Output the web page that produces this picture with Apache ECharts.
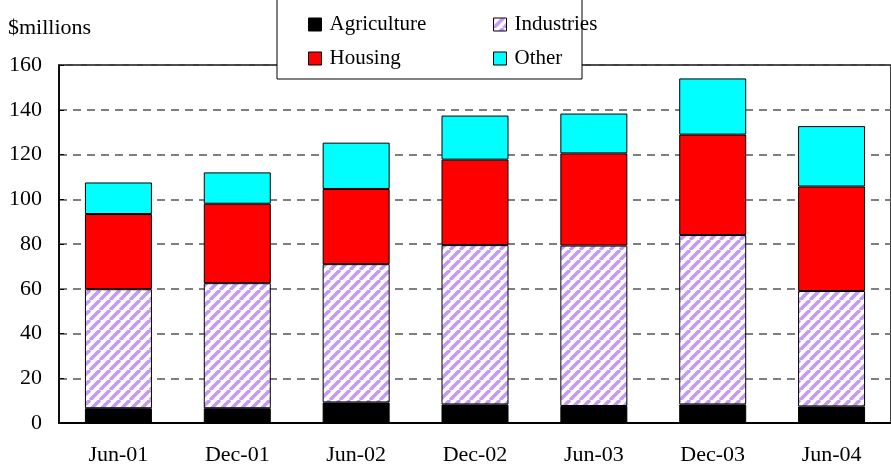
<!DOCTYPE html>
<html>
<head>
<meta charset="utf-8">
<script src="https://cdn.jsdelivr.net/npm/echarts@6/dist/echarts.min.js"></script>
<style>html,body{margin:0;padding:0;background:#fff;}#c{width:891px;height:468px;}</style>
</head>
<body>
<div id="c"></div>
<script>
const categories = ['Jun-01','Dec-01','Jun-02','Dec-02','Jun-03','Dec-03','Jun-04'];
const agriculture = [6.6, 6.6, 9.2, 8.3, 7.6, 8.3, 7.4];
const industries  = [53.2, 55.9, 61.8, 71.2, 71.7, 75.7, 51.6];
const housing     = [33.6, 35.5, 33.6, 38.2, 41.2, 44.9, 46.7];
const other       = [14.1, 14.0, 20.7, 19.7, 17.8, 25.1, 27.0];
const yTicks = [0, 20, 40, 60, 80, 100, 120, 140, 160];

const FONT = '"Liberation Serif", "Times New Roman", serif';

function stripePattern() {
  const c = document.createElement('canvas');
  c.width = 10; c.height = 10;
  const g = c.getContext('2d');
  g.fillStyle = '#ffffff';
  g.fillRect(0, 0, 10, 10);
  g.strokeStyle = '#c49af3';
  g.lineWidth = 3.6;
  for (const k of [-10, 0, 10]) {
    g.beginPath();
    g.moveTo(k, 10);
    g.lineTo(k + 10, 0);
    g.stroke();
  }
  return {image: c, repeat: 'repeat'};
}
const stripes = stripePattern();

const chart = echarts.init(document.getElementById('c'), null, {renderer: 'canvas'});
const bw = 67;
function bar(name, data, color, z) {
  return {
    name, type: 'bar', stack: 'total', data, barWidth: bw,
    itemStyle: {color, borderColor: '#000', borderWidth: 1},
    emphasis: {disabled: true}, animation: false, z
  };
}
const legendCommon = {
  orient: 'vertical', top: 9,
  itemWidth: 13, itemHeight: 13, itemGap: 13, icon: 'rect',
  itemStyle: {borderColor: '#000', borderWidth: 1},
  textStyle: {fontFamily: FONT, fontSize: 21, color: '#000', padding: [0, 0, 0, 3]},
  z: 110, selectedMode: false
};
chart.setOption({
  animation: false,
  backgroundColor: '#fff',
  grid: {left: 59, top: 65, right: -15, bottom: 45, show: true, borderColor: '#000', borderWidth: 1.5, backgroundColor: 'transparent'},
  graphic: [{
    type: 'rect', shape: {x: 277, y: -1, width: 305, height: 80},
    style: {fill: '#fff', stroke: '#000', lineWidth: 1}, z: 100
  }],
  legend: [
    Object.assign({data: ['Agriculture', 'Housing'], left: 303}, legendCommon),
    Object.assign({data: ['Industries', 'Other'], left: 488}, legendCommon)
  ],
  xAxis: {
    type: 'category', data: categories,
    axisLine: {lineStyle: {color: '#000', width: 2}},
    axisTick: {show: false},
    axisLabel: {fontFamily: FONT, fontSize: 22, color: '#000', margin: 21},
    splitLine: {show: false}
  },
  yAxis: {
    type: 'value', min: 0, max: 160, interval: 20,
    name: '$millions', nameLocation: 'end', nameGap: 26,
    nameTextStyle: {fontFamily: FONT, fontSize: 22, color: '#000', align: 'left', padding: [0, 0, 0, -51]},
    axisLine: {show: true, lineStyle: {color: '#000', width: 1.5}},
    axisTick: {show: true, inside: true, length: 5, lineStyle: {color: '#000'}},
    axisLabel: {fontFamily: FONT, fontSize: 22, color: '#000', margin: 17,
      formatter: v => yTicks.includes(v) ? String(v) : ''},
    splitLine: {show: true, lineStyle: {color: '#555', type: [8, 6], width: 1.5}}
  },
  series: [
    bar('Agriculture', agriculture, '#000000', 2),
    bar('Industries', industries, stripes, 2),
    bar('Housing', housing, '#ff0000', 2),
    bar('Other', other, '#00ffff', 2)
  ]
});
</script>
</body>
</html>
